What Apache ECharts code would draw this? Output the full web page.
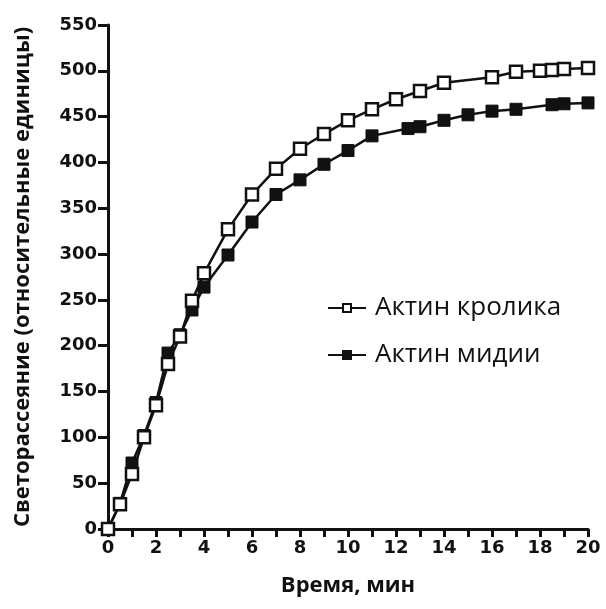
<!DOCTYPE html>
<html>
<head>
<meta charset="utf-8">
<script src="https://cdn.jsdelivr.net/npm/echarts@6/dist/echarts.min.js"></script>
<style>html,body{margin:0;padding:0;background:#fff}#c{width:606px;height:609px}</style>
</head>
<body>
<div id="c"></div>
<script>
var xTitle = 'Время, мин';
var yTitle = 'Светорассеяние (относительные единицы)';
var rabbitName = 'Актин кролика';
var musselName = 'Актин мидии';
var rabbitX = [0, 0.5, 1, 1.5, 2, 2.5, 3, 3.5, 4, 5, 6, 7, 8, 9, 10, 11, 12, 13, 14, 16, 17, 18, 18.5, 19, 20];
var rabbitY = [0, 27, 60, 100, 135, 180, 210, 249, 279, 327, 365, 393, 415, 431, 446, 458, 469, 478, 487, 493, 499, 500, 501, 502, 503];
var musselX = [0, 0.5, 1, 1.5, 2, 2.5, 3, 3.5, 4, 5, 6, 7, 8, 9, 10, 11, 12.5, 13, 14, 15, 16, 17, 18.5, 19, 20];
var musselY = [0, 28, 72, 102, 138, 192, 212, 239, 264, 299, 335, 365, 381, 398, 413, 429, 437, 439, 446, 452, 456, 458, 463, 464, 465];

function pairs(xs, ys) { return xs.map(function (x, i) { return [x, ys[i]]; }); }

var chart = echarts.init(document.getElementById('c'));
chart.setOption({
  animation: false,
  grid: { left: 108, right: 18, top: 25, bottom: 80 },
  legend: {
    orient: 'vertical', left: 322, top: 290, itemGap: 21,
    itemWidth: 38, itemHeight: 10,
    textStyle: { fontFamily: 'Open Sans', fontSize: 26, color: '#111', padding: [0, 0, 0, 4] },
    data: [rabbitName, musselName]
  },
  xAxis: {
    type: 'value', min: 0, max: 20, interval: 1,
    name: xTitle, nameLocation: 'middle', nameGap: 46,
    nameTextStyle: { fontFamily: 'Open Sans', fontWeight: 'bold', fontSize: 22, color: '#111' },
    axisLine: { lineStyle: { color: '#111', width: 3 } },
    axisTick: { show: true, length: 8, lineStyle: { color: '#111', width: 3 } },
    axisLabel: {
      margin: 10, fontFamily: 'DejaVu Sans', fontWeight: 'bold', fontSize: 18, color: '#111',
      formatter: function (v) { return v % 2 === 0 ? String(v) : ''; }
    },
    splitLine: { show: false }
  },
  yAxis: {
    type: 'value', min: 0, max: 550, interval: 50,
    name: yTitle, nameLocation: 'middle', nameRotate: 90, nameGap: 74,
    nameTextStyle: { fontFamily: 'Open Sans', fontWeight: 'bold', fontSize: 22, color: '#111' },
    axisLine: { show: true, lineStyle: { color: '#111', width: 3 } },
    axisTick: { show: true, length: 10, lineStyle: { color: '#111', width: 3 } },
    axisLabel: { margin: 11, fontFamily: 'DejaVu Sans', fontWeight: 'bold', fontSize: 18, color: '#111' },
    splitLine: { show: false }
  },
  series: [
    {
      name: rabbitName, type: 'line', data: pairs(rabbitX, rabbitY), clip: false, z: 3,
      symbol: 'rect', symbolSize: 12,
      lineStyle: { color: '#111', width: 2.5 },
      itemStyle: { color: '#fff', borderColor: '#111', borderWidth: 2.5 }
    },
    {
      name: musselName, type: 'line', data: pairs(musselX, musselY), clip: false, z: 2,
      symbol: 'rect', symbolSize: 12,
      lineStyle: { color: '#111', width: 2.5 },
      itemStyle: { color: '#111', borderColor: '#111', borderWidth: 1 }
    }
  ]
});
</script>
</body>
</html>
